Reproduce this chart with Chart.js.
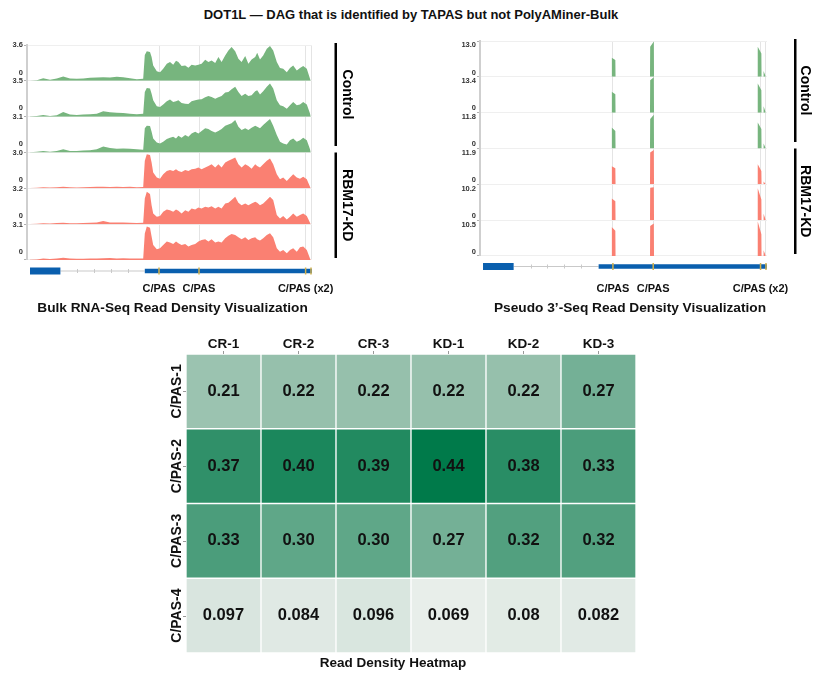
<!DOCTYPE html>
<html>
<head>
<meta charset="utf-8">
<script src="https://cdn.jsdelivr.net/npm/chart.js@4.4.1/dist/chart.umd.min.js"></script>
<style>
  body { margin: 0; background: #fff; width: 814px; height: 673px; position: relative; overflow: hidden; font-family: "Liberation Sans", Arial, sans-serif; }
  #title { position: absolute; top: 7px; left: 8px; width: 806px; text-align: center; font-weight: bold; font-size: 13px; color: #111; }
  .panel { position: absolute; }
</style>
</head>
<body>
<div id="title">DOT1L — DAG that is identified by TAPAS but not PolyAMiner-Bulk</div>
<div class="panel" style="left:0;top:30px;width:370px;height:290px"><canvas id="bulkChart"></canvas></div>
<div class="panel" style="left:440px;top:30px;width:374px;height:290px"><canvas id="pseudoChart"></canvas></div>
<div class="panel" style="left:150px;top:325px;width:500px;height:348px"><canvas id="heatChart"></canvas></div>
<script>
Chart.defaults.font.family = '"Liberation Sans", Arial, sans-serif';
Chart.defaults.color = '#222';

// gene model (kb from gene start)
const geneExons = [[0, 7.6], [28.7, 70.5]];
const cpasPos = [32.25, 42.25, 68.9, 70.25];
const cpasLabels = ['C/PAS', 'C/PAS', 'C/PAS (x2)', ''];

const trackNames = ['CR-1', 'CR-2', 'CR-3', 'KD-1', 'KD-2', 'KD-3'];

// bulk RNA-seq coverage
const bulkPos = [0, 1.7, 3.3, 5, 6.7, 8.3, 10, 11.7, 13.3, 15, 16.7, 18.3, 20, 21.7, 23.3, 25, 26.7, 28.3,
  28.7, 29.2, 30, 30.4, 30.8, 31.7, 32.5, 33.3, 34.2, 35, 35.8, 36.5, 37.1, 37.9, 38.8, 39.6, 40.4, 41.3, 42.1, 42.9,
  43.8, 44.6, 45.4, 46.3, 47.1, 47.9, 48.8, 49.6, 50.4, 51.3, 52.1, 52.9, 53.8, 54.6, 55.4, 56.3, 56.8, 57.5, 58.3, 59.2,
  60, 60.8, 61.7, 62.5, 63.3, 64.2, 65, 65.8, 66.7, 67.5, 68.3, 69.2, 70, 70.2];
const bulkMax = [3.6, 3.5, 3.1, 3.0, 3.2, 3.1];
const bulkCR1 = [0.02, 0.05, 0.27, 0.1, 0.24, 0.44, 0.24, 0.2, 0.24, 0.3, 0.34, 0.37, 0.34, 0.4, 0.37, 0.27, 0.17, 0.2,
  2.6, 2.96, 2.89, 2.39, 1.55, 0.97, 0.87, 1.21, 1.71, 1.88, 1.61, 2.02, 1.88, 1.48, 1.55, 1.31, 1.61, 1.55, 1.61, 1.71,
  2.12, 1.88, 2.05, 1.78, 2.39, 1.88, 2.55, 3.06, 3.39, 2.96, 2.22, 1.88, 2.49, 1.71, 2.15, 2.39, 2.82, 2.15, 2.55, 3.23,
  3.5, 3.06, 1.88, 1.28, 1.21, 0.87, 1.28, 1.55, 1.04, 1.28, 1.48, 1.21, 0.2, 0];
const bulkCR2 = [0.02, 0.06, 0.16, 0.07, 0.13, 0.46, 0.2, 0.16, 0.2, 0.23, 0.29, 0.52, 0.42, 0.39, 0.36, 0.29, 0.23, 0.29,
  2.42, 2.81, 2.75, 2.25, 1.6, 1.01, 0.95, 1.18, 1.5, 1.67, 1.44, 1.5, 1.6, 1.34, 1.27, 1.24, 1.5, 1.6, 1.67, 1.7,
  1.9, 2.03, 1.93, 1.76, 1.9, 2.03, 2.35, 2.42, 2.68, 2.91, 2.42, 2.03, 2.25, 2.03, 2.09, 2.48, 2.58, 2.16, 2.48, 2.91,
  3.24, 2.75, 1.6, 1.11, 1.01, 0.78, 1.11, 1.44, 1.11, 1.18, 1.44, 1.18, 0.3, 0];
const bulkCR3 = [0.02, 0.06, 0.12, 0.06, 0.14, 0.29, 0.14, 0.14, 0.17, 0.2, 0.29, 0.52, 0.38, 0.32, 0.35, 0.32, 0.29, 0.23,
  2.09, 2.32, 2.29, 1.8, 1.22, 0.87, 0.78, 0.93, 1.16, 1.28, 1.36, 1.22, 1.45, 1.28, 1.51, 1.36, 1.65, 1.8, 1.65, 1.86,
  2.09, 2.03, 1.86, 1.74, 1.86, 2.03, 2.32, 2.43, 2.52, 2.81, 2.23, 1.94, 2.09, 1.94, 2.14, 2.32, 2.23, 2.09, 2.38, 2.67,
  2.9, 2.32, 1.51, 0.93, 0.78, 0.7, 1.07, 1.22, 0.93, 1.07, 1.28, 1.07, 0.29, 0];
const bulkKD1 = [0.02, 0.05, 0.1, 0.06, 0.1, 0.14, 0.1, 0.08, 0.1, 0.12, 0.14, 0.13, 0.12, 0.14, 0.12, 0.13, 0.1, 0.12,
  2.3, 2.86, 2.8, 2.16, 1.32, 0.9, 0.81, 1.18, 1.46, 1.54, 1.46, 1.6, 1.46, 1.37, 1.54, 1.46, 1.6, 1.65, 1.74, 1.6,
  1.74, 1.88, 2.02, 1.74, 2.02, 1.74, 2.16, 2.3, 2.44, 2.58, 2.02, 1.74, 2.02, 1.88, 1.65, 2.02, 1.88, 1.74, 2.02, 2.3,
  2.49, 2.02, 1.18, 0.76, 0.9, 0.62, 0.9, 1.18, 0.9, 0.81, 0.98, 0.76, 0.14, 0];
const bulkKD2 = [0.02, 0.04, 0.08, 0.05, 0.1, 0.12, 0.08, 0.08, 0.1, 0.12, 0.14, 0.28, 0.16, 0.14, 0.14, 0.12, 0.1, 0.12,
  2.3, 2.9, 2.7, 1.7, 0.96, 0.66, 0.72, 1.1, 1.31, 1.25, 1.1, 1.31, 1.19, 0.96, 1.25, 1.1, 1.4, 1.31, 1.49, 1.4,
  1.55, 1.49, 1.61, 1.4, 1.55, 1.4, 1.85, 1.91, 2.15, 2.45, 1.91, 1.7, 1.85, 1.7, 1.85, 2.0, 1.91, 1.7, 1.85, 2.15,
  2.45, 2.15, 0.81, 0.51, 0.72, 0.42, 0.66, 0.96, 0.66, 0.81, 0.96, 0.72, 0.12, 0];
const bulkKD3 = [0.02, 0.05, 0.12, 0.08, 0.12, 0.2, 0.14, 0.1, 0.1, 0.12, 0.14, 0.16, 0.18, 0.14, 0.16, 0.14, 0.12, 0.14,
  2.3, 2.9, 2.8, 2.03, 1.3, 0.93, 1.01, 1.3, 1.59, 1.51, 1.39, 1.59, 1.45, 1.3, 1.39, 1.16, 1.3, 1.39, 1.59, 1.74,
  1.8, 1.59, 1.8, 1.51, 1.59, 1.51, 1.88, 2.09, 2.26, 2.17, 1.97, 1.8, 1.97, 1.74, 1.88, 1.97, 1.8, 1.68, 1.88, 2.17,
  2.32, 1.97, 1.01, 0.72, 0.87, 0.58, 0.87, 1.01, 0.72, 1.1, 1.16, 0.87, 0.14, 0];

// pseudo 3'-seq coverage
const pseudoPos = [31.9, 31.95, 32.85, 32.9, 41.45, 41.5, 42.4, 42.45, 68.15, 68.2, 69.1, 69.15, 69.6, 69.65, 70.2];
const pseudoMax = [13.0, 13.4, 11.8, 11.9, 10.2, 10.5];
const pseudoCR1 = [0, 6.9, 6.1, 0, 0, 10.9, 12.8, 0, 0, 10.9, 8.5, 0, 0, 2.1, 0];
const pseudoCR2 = [0, 7.8, 6.9, 0, 0, 12.1, 13.2, 0, 0, 10.9, 8.4, 0, 0, 2.4, 0];
const pseudoCR3 = [0, 6.9, 5.8, 0, 0, 9.7, 11.1, 0, 0, 8.6, 6.4, 0, 0, 1.65, 0];
const pseudoKD1 = [0, 6.0, 5.3, 0, 0, 10.6, 11.4, 0, 0, 6.7, 4.4, 0, 0, 0.9, 0];
const pseudoKD2 = [0, 6.2, 5.4, 0, 0, 9.2, 9.4, 0, 0, 9.1, 5.9, 0, 0, 1.8, 0];
const pseudoKD3 = [0, 8.5, 7.4, 0, 0, 8.8, 9.5, 0, 0, 10.1, 6.4, 0, 0, 1.7, 0];

// heatmap
const samples = ['CR-1', 'CR-2', 'CR-3', 'KD-1', 'KD-2', 'KD-3'];
const sites = ['C/PAS-1', 'C/PAS-2', 'C/PAS-3', 'C/PAS-4'];
const site1 = [0.21, 0.22, 0.22, 0.22, 0.22, 0.27];
const site2 = [0.37, 0.40, 0.39, 0.44, 0.38, 0.33];
const site3 = [0.33, 0.30, 0.30, 0.27, 0.32, 0.32];
const site4 = [0.097, 0.084, 0.096, 0.069, 0.08, 0.082];
const siteValues = [site1, site2, site3, site4];

const GREEN = '#77b57e';
const RED = '#fa8072';
const trackColors = [GREEN, GREEN, GREEN, RED, RED, RED];
const BOLD = '"Liberation Sans", Arial, sans-serif';

const trackDecor = {
  id: 'trackDecor',
  afterDraw(chart, args, opts) {
    const { ctx, chartArea: area, scales: { x } } = chart;
    const px = (v) => x.getPixelForValue(v);
    const geneY = area.bottom + opts.geneGap;
    ctx.save();
    // intron with little marks
    ctx.strokeStyle = '#c9c9c9';
    ctx.lineWidth = 1;
    ctx.beginPath();
    ctx.moveTo(px(geneExons[0][1]), geneY + 0.5);
    ctx.lineTo(px(geneExons[1][0]), geneY + 0.5);
    for (let v = geneExons[0][1] + 4.2; v < geneExons[1][0] - 1; v += 4.2) {
      ctx.moveTo(Math.round(px(v)) + 0.5, geneY - 1.5);
      ctx.lineTo(Math.round(px(v)) + 0.5, geneY + 2.5);
    }
    ctx.stroke();
    // exons
    ctx.fillStyle = '#0a5fae';
    geneExons.forEach(([s, e], i) => {
      const h = i === 0 ? 7 : 4.5;
      ctx.fillRect(px(s), geneY - h / 2 + 0.5, px(e) - px(s), h);
    });
    ctx.fillStyle = '#d2b14e';
    cpasPos.forEach((v) => ctx.fillRect(px(v) - 0.75, geneY - 3, 1.5, 7));
    // condition brackets
    const mid = (area.top + area.bottom) / 2;
    const groups = [[area.top - 2, mid - 6.5, 'Control'], [mid, area.bottom - 2, 'RBM17-KD']];
    ctx.font = 'bold 14px ' + BOLD;
    ctx.textAlign = 'center';
    ctx.textBaseline = 'middle';
    groups.forEach(([y0, y1, label]) => {
      ctx.fillStyle = '#000';
      ctx.fillRect(area.right + opts.barDx, y0, 2.5, y1 - y0);
      ctx.save();
      ctx.translate(area.right + opts.textDx, (y0 + y1) / 2);
      ctx.rotate(Math.PI / 2);
      ctx.fillText(label, 0, 0);
      ctx.restore();
    });
    // panel title
    ctx.fillStyle = '#111';
    ctx.font = 'bold 13.7px ' + BOLD;
    ctx.fillText(opts.title, (area.left + area.right) / 2 + opts.titleDx, area.bottom + opts.titleDy);
    ctx.restore();
  },
};

function trackChart(id, positions, tracks, maxes, cfg) {
  const scales = {
    x: {
      type: 'linear',
      min: -0.75,
      max: 70.5,
      afterBuildTicks: (s) => { s.ticks = cpasPos.map((value) => ({ value })); },
      afterFit: (s) => { s.height = cfg.xHeight; },
      ticks: {
        autoSkip: false, maxRotation: 0, padding: cfg.labelPad,
        font: { size: 11, weight: 'bold' }, color: '#111',
        callback: (v, i) => cpasLabels[i],
      },
      grid: { color: '#e4e4e4', drawTicks: false },
      border: { display: false },
    },
  };
  maxes.forEach((max, k) => {
    scales['y' + k] = {
      axis: 'y', type: 'linear', position: 'left',
      stack: 'tracks', stackWeight: 1, weight: maxes.length - k,
      min: 0, max,
      afterBuildTicks: (s) => { s.ticks = [{ value: 0 }, { value: max }]; },
      afterFit: (s) => { s.width = cfg.axisWidth; },
      ticks: {
        autoSkip: false, padding: 1, labelOffset: cfg.labelOffset,
        font: { size: 7.5, weight: 'bold', lineHeight: 1.15 }, color: '#333',
        callback: (v) => v === 0
          ? ['0', k < maxes.length - 1 ? maxes[k + 1].toFixed(1) : '']
          : (k === 0 ? ['', max.toFixed(1)] : ''),
      },
      grid: { color: '#efefef', tickLength: 3, tickColor: '#b0b0b0' },
      border: { color: '#cfcfcf', width: 2 },
    };
  });

  return new Chart(document.getElementById(id), {
    type: 'line',
    data: {
      datasets: tracks.map((vals, k) => ({
        label: trackNames[k],
        data: positions.map((x, i) => ({ x, y: vals[i] })),
        yAxisID: 'y' + k,
        fill: 'origin',
        backgroundColor: trackColors[k],
        borderColor: 'rgba(0,0,0,0)',
        borderWidth: 1,
        pointRadius: 0,
        tension: 0,
      })),
    },
    options: {
      responsive: true,
      maintainAspectRatio: false,
      animation: false,
      layout: { padding: cfg.padding },
      plugins: {
        legend: { display: false },
        tooltip: { enabled: false },
        trackDecor: cfg.decor,
      },
      scales,
    },
    plugins: [trackDecor],
  });
}

trackChart('bulkChart', bulkPos, [bulkCR1, bulkCR2, bulkCR3, bulkKD1, bulkKD2, bulkKD3], bulkMax, {
  padding: { top: 15, right: 58, left: 0, bottom: 0 },
  axisWidth: 27, xHeight: 60, labelPad: 22, labelOffset: -4,
  decor: { geneGap: 10.5, barDx: 22.5, textDx: 35, title: 'Bulk RNA-Seq Read Density Visualization', titleDx: 3, titleDy: 48 },
});

trackChart('pseudoChart', pseudoPos, [pseudoCR1, pseudoCR2, pseudoCR3, pseudoKD1, pseudoKD2, pseudoKD3], pseudoMax, {
  padding: { top: 11, right: 47, left: 0, bottom: 0 },
  axisWidth: 40, xHeight: 64, labelPad: 26, labelOffset: 0,
  decor: { geneGap: 10, barDx: 27, textDx: 38, title: 'Pseudo 3’-Seq Read Density Visualization', titleDx: 6.5, titleDy: 52 },
});

const heatStops = [[0.069, [232, 238, 234]], [0.22, [150, 192, 172]], [0.44, [0, 122, 74]]];
function heatColor(v) {
  const i = v <= heatStops[1][0] ? 0 : 1;
  const [v0, c0] = heatStops[i];
  const [v1, c1] = heatStops[i + 1];
  const t = Math.min(1, Math.max(0, (v - v0) / (v1 - v0)));
  const c = c0.map((a, j) => Math.round(a + (c1[j] - a) * t));
  return `rgb(${c[0]},${c[1]},${c[2]})`;
}
const cellText = (v) => (v >= 0.1 ? v.toFixed(2) : String(v));

const heatLabels = {
  id: 'heatLabels',
  afterDatasetsDraw(chart) {
    const { ctx } = chart;
    ctx.save();
    ctx.font = 'bold 16.5px ' + BOLD;
    ctx.fillStyle = '#111';
    ctx.textAlign = 'center';
    ctx.textBaseline = 'middle';
    chart.data.datasets.forEach((ds, r) => {
      chart.getDatasetMeta(r).data.forEach((bar, c) => {
        ctx.fillText(cellText(siteValues[r][c]), bar.x, (bar.y + bar.base) / 2);
      });
    });
    ctx.restore();
  },
  afterDraw(chart) {
    const { ctx, chartArea: area, scales: { y } } = chart;
    ctx.save();
    ctx.font = 'bold 14px ' + BOLD;
    ctx.fillStyle = '#111';
    ctx.strokeStyle = '#999';
    ctx.lineWidth = 1;
    ctx.textAlign = 'center';
    ctx.textBaseline = 'middle';
    sites.forEach((name, r) => {
      const yy = y.getPixelForValue(r + 0.5);
      ctx.beginPath();
      ctx.moveTo(area.left - 3, Math.round(yy) + 0.5);
      ctx.lineTo(area.left, Math.round(yy) + 0.5);
      ctx.stroke();
      ctx.save();
      ctx.translate(area.left - 9, yy);
      ctx.rotate(-Math.PI / 2);
      ctx.fillText(name, 0, 0);
      ctx.restore();
    });
    ctx.restore();
  },
};

new Chart(document.getElementById('heatChart'), {
  type: 'bar',
  data: {
    labels: samples,
    datasets: siteValues.map((row, r) => ({
      label: sites[r],
      data: row.map(() => [r, r + 1]),
      backgroundColor: row.map(heatColor),
      borderColor: '#ffffff',
      borderWidth: 1,
      borderSkipped: false,
      grouped: false,
      barPercentage: 1,
      categoryPercentage: 1,
    })),
  },
  options: {
    responsive: true,
    maintainAspectRatio: false,
    animation: false,
    layout: { padding: { right: 14 } },
    plugins: {
      legend: { display: false },
      tooltip: { enabled: false },
      title: {
        display: true, position: 'bottom', text: 'Read Density Heatmap',
        font: { size: 13.5, weight: 'bold' }, color: '#111',
        padding: { top: 2, bottom: 1.8 },
      },
    },
    scales: {
      x: {
        position: 'top',
        afterFit: (s) => { s.height = 29; },
        ticks: { padding: -1, font: { size: 13.5, weight: 'bold' }, color: '#111' },
        grid: { drawOnChartArea: false, offset: false, tickLength: 3, color: '#999' },
        border: { display: false },
      },
      y: {
        min: 0, max: 4, reverse: true,
        afterFit: (s) => { s.width = 36; },
        ticks: { display: false },
        grid: { display: false },
        border: { display: false },
      },
    },
  },
  plugins: [heatLabels],
});
</script>
</body>
</html>
